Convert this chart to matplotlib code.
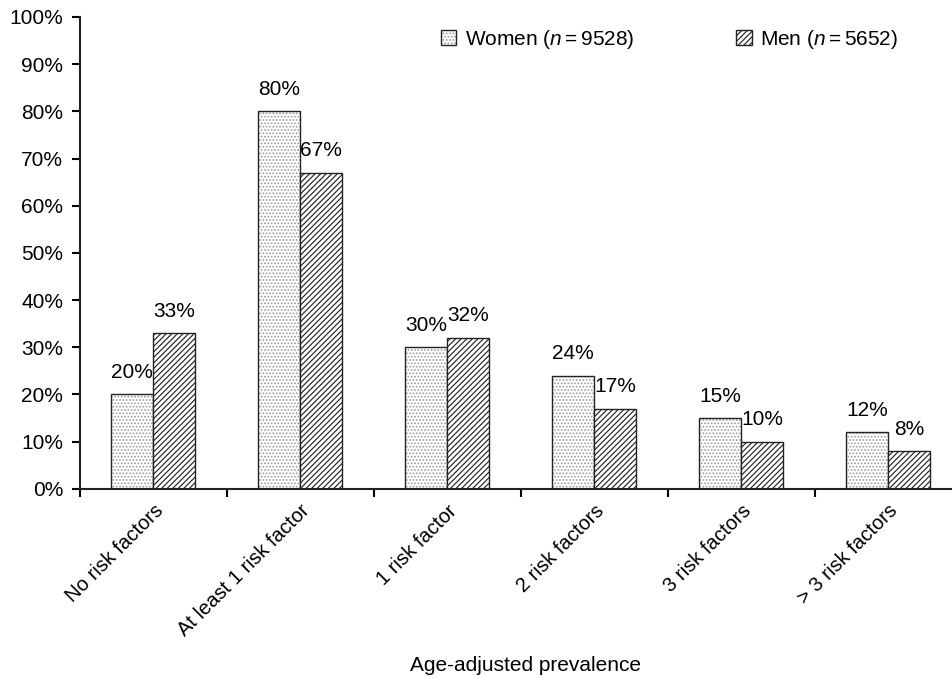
import numpy as np
import matplotlib.pyplot as plt
from matplotlib.ticker import PercentFormatter
from matplotlib.transforms import ScaledTranslation

CATEGORIES = [
    "No risk factors",
    "At least 1 risk factor",
    "1 risk factor",
    "2 risk factors",
    "3 risk factors",
    "> 3 risk factors",
]
WOMEN = [20, 80, 30, 24, 15, 12]
MEN = [33, 67, 32, 17, 10, 8]
WOMEN_LABEL = "Women ($n=$9528)"
MEN_LABEL = "Men ($n=$5652)"

plt.rcParams["font.family"] = ["Liberation Sans", "DejaVu Sans"]
plt.rcParams["mathtext.fontset"] = "custom"
plt.rcParams["mathtext.it"] = "Liberation Sans:italic"
plt.rcParams["mathtext.rm"] = "Liberation Sans"
plt.rcParams["hatch.linewidth"] = 0.8
FS = 15

fig = plt.figure(figsize=(9.52, 6.78), dpi=100)
ax = fig.add_axes([0.084, 0.279, 0.926, 0.696])

x = np.arange(len(CATEGORIES))
w = 0.286

bw = ax.bar(x - w / 2, WOMEN, w, facecolor="white", edgecolor="#222222",
            linewidth=1.0, hatch=".....", label=WOMEN_LABEL)
for b in bw:
    b._hatch_color = (0.6, 0.6, 0.6, 1.0)
bm = ax.bar(x + w / 2, MEN, w, facecolor="white", edgecolor="#222222",
            linewidth=1.0, hatch="//////", label=MEN_LABEL)
for b in bm:
    b._hatch_color = (0.1, 0.1, 0.1, 1.0)

for xi, v in zip(x - w / 2, WOMEN):
    ax.annotate(f"{v}%", (xi, v), xytext=(0, 9), textcoords="offset points",
                ha="center", va="bottom", fontsize=FS)
for xi, v in zip(x + w / 2, MEN):
    ax.annotate(f"{v}%", (xi, v), xytext=(0, 9), textcoords="offset points",
                ha="center", va="bottom", fontsize=FS)

ax.set_xlim(-0.5, len(CATEGORIES) - 0.5)
ax.set_ylim(0, 100)
ax.set_yticks(range(0, 101, 10))
ax.yaxis.set_major_formatter(PercentFormatter(decimals=0))

# boundary ticks between groups, category names on minor ticks
ax.set_xticks(np.arange(len(CATEGORIES) + 1) - 0.5)
ax.set_xticklabels([])
ax.set_xticks(x, minor=True)
ax.set_xticklabels(CATEGORIES, minor=True, rotation=45, ha="right",
                   va="top", rotation_mode="anchor", fontsize=14.5)
shift = ScaledTranslation(10 / 72, 0, fig.dpi_scale_trans)
for lab in ax.get_xticklabels(minor=True):
    lab.set_transform(lab.get_transform() + shift)
ax.tick_params(axis="x", which="minor", length=0, pad=9)
ax.tick_params(axis="x", which="major", direction="out", length=6, width=1.5)
ax.tick_params(axis="y", direction="out", length=6, width=1.5,
               labelsize=FS, pad=6)

for side in ("top", "right"):
    ax.spines[side].set_visible(False)
for side in ("left", "bottom"):
    ax.spines[side].set_linewidth(1.5)
    ax.spines[side].set_color("#222222")

ax.legend(loc="upper left", bbox_to_anchor=(0.388, 1.017), ncol=2,
          frameon=False, fontsize=FS, handlelength=0.75, handleheight=0.75,
          handletextpad=0.4, columnspacing=4.9)

ax.set_xlabel("Age-adjusted prevalence", fontsize=FS)
ax.xaxis.set_label_coords(0.505, -0.355)

fig.savefig("out.png", dpi=100)
